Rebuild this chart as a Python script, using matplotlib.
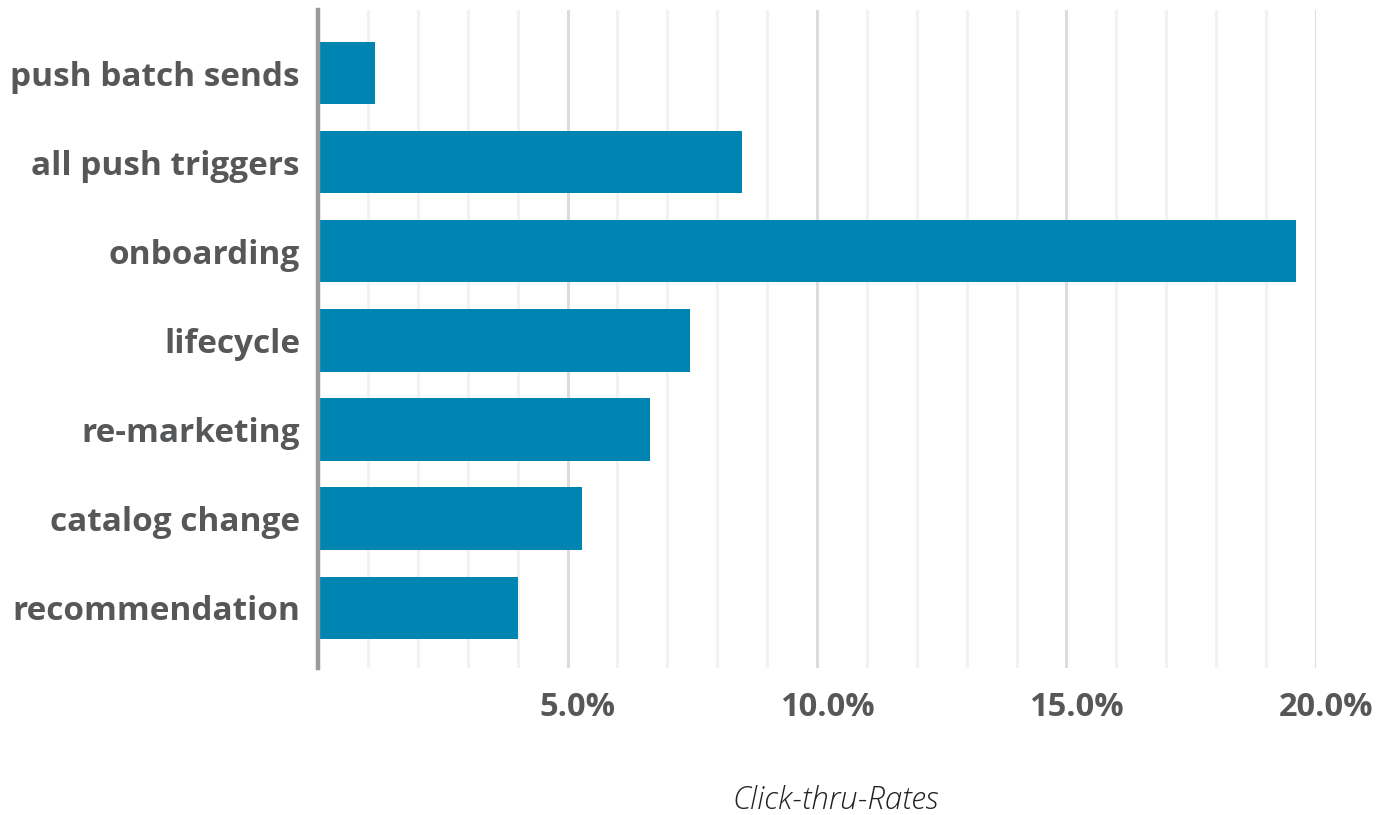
import matplotlib.pyplot as plt
import matplotlib.transforms as mtransforms
from matplotlib.ticker import MultipleLocator, FuncFormatter

# Click-thru-rates by campaign type (percent)
categories = ["push batch sends", "all push triggers", "onboarding", "lifecycle",
              "re-marketing", "catalog change", "recommendation"]
ctr = [1.15, 8.5, 19.6, 7.45, 6.65, 5.3, 4.0]

bar_color = "#0085b3"
label_color = "#555759"

fig = plt.figure(figsize=(13.81, 8.15), dpi=100)
ax = fig.add_axes([0.2303, 0.18, 0.7226, 0.808])

ypos = list(range(len(categories)))
ax.barh(ypos, ctr, height=0.70, color=bar_color, zorder=3)
ax.set_ylim(len(categories) - 1 + 0.68, -0.71)
ax.set_xlim(0, 20)

ax.set_yticks(ypos)
ax.set_yticklabels(categories)
ax.xaxis.set_major_locator(MultipleLocator(5))
ax.xaxis.set_minor_locator(MultipleLocator(1))
ax.xaxis.set_major_formatter(FuncFormatter(lambda v, p: "" if v == 0 else f"{v:.1f}%"))

ax.grid(axis="x", which="major", color="#dcdcdc", linewidth=2.2, zorder=0)
ax.grid(axis="x", which="minor", color="#f2f2f2", linewidth=2.2, zorder=0)

for s in ["top", "right", "bottom"]:
    ax.spines[s].set_visible(False)
ax.spines["left"].set_color("#9a9a9e")
ax.spines["left"].set_linewidth(3.2)
ax.spines["left"].set_zorder(4)

ax.tick_params(axis="both", which="both", length=0)
ax.tick_params(axis="y", pad=13)
ax.tick_params(axis="x", pad=16)
for t in ax.get_yticklabels():
    t.set_fontfamily("Open Sans")
    t.set_fontweight("bold")
    t.set_fontsize(24)
    t.set_color(label_color)

# x tick labels sit a little right of their gridlines in the original
shift = mtransforms.ScaledTranslation(10 / 100, 0, fig.dpi_scale_trans)
for t in ax.get_xticklabels():
    t.set_fontfamily("Open Sans")
    t.set_fontweight("bold")
    t.set_fontsize(23.5)
    t.set_color(label_color)
    t.set_transform(t.get_transform() + shift)

fig.text(0.605, 0.018, "Click-thru-Rates", fontfamily="Open Sans", fontstyle="italic",
         fontweight="light", fontsize=22.5, color="#222222", ha="center", va="center")

fig.savefig("out.png", dpi=100)
